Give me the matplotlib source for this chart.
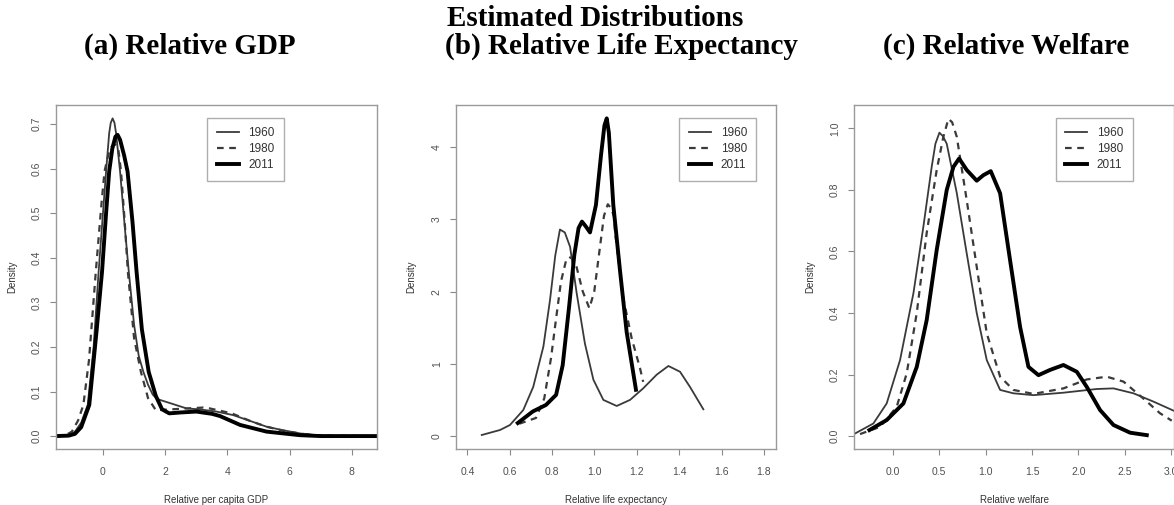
import matplotlib.pyplot as plt

plt.rcParams['font.family'] = ['Liberation Sans', 'DejaVu Sans']

years = ["1960", "1980", "2011"]

# (a) relative per capita GDP
gdp_x_1960 = [-1.51, -1.1, -0.9, -0.7, -0.49, -0.3, -0.14, 0.0, 0.10, 0.2, 0.25, 0.31, 0.37, 0.42, 0.55, 0.7, 0.83,
              1.0, 1.15, 1.3, 1.45, 1.6, 1.75, 2.2, 2.69, 3.1, 3.65, 4.19, 4.73, 5.26, 5.8, 6.33, 6.87, 7.5, 8.81]
gdp_y_1960 = [0, 0.001, 0.01, 0.03, 0.07, 0.2, 0.369, 0.5, 0.594, 0.68, 0.703, 0.713, 0.703, 0.68, 0.594, 0.47, 0.369,
              0.25, 0.18, 0.144, 0.115, 0.093, 0.083, 0.073, 0.062, 0.06, 0.055, 0.047, 0.034, 0.021, 0.013,
              0.006, 0.002, 0.0, 0.0]
gdp_x_1980 = [-1.51, -1.2, -1.0, -0.8, -0.63, -0.45, -0.23, -0.05, 0.05, 0.2, 0.3, 0.38, 0.45, 0.5, 0.58, 0.7, 0.8,
              1.0, 1.22, 1.45, 1.7, 2.2, 2.69, 3.22, 3.44, 4.14, 4.73, 5.26, 5.8, 6.4, 7.0, 8.81]
gdp_y_1980 = [0, 0.002, 0.01, 0.035, 0.07, 0.17, 0.369, 0.52, 0.594, 0.64, 0.652, 0.655, 0.65, 0.64, 0.594, 0.48, 0.369,
              0.22, 0.144, 0.085, 0.058, 0.06, 0.062, 0.064, 0.062, 0.051, 0.034, 0.021, 0.012, 0.005, 0.001, 0.0]
gdp_x_2011 = [-1.51, -1.1, -0.9, -0.7, -0.44, -0.2, -0.03, 0.1, 0.2, 0.3, 0.4, 0.47, 0.55, 0.68, 0.79, 0.95, 1.08,
              1.25, 1.47, 1.7, 1.9, 2.13, 2.5, 3.0, 3.5, 3.76, 4.41, 5.26, 6.33, 7.0, 8.81]
gdp_y_2011 = [0, 0.001, 0.005, 0.02, 0.07, 0.24, 0.369, 0.5, 0.594, 0.645, 0.672, 0.676, 0.665, 0.63, 0.594, 0.48, 0.369,
              0.24, 0.144, 0.09, 0.06, 0.051, 0.053, 0.055, 0.05, 0.045, 0.025, 0.010, 0.002, 0.0, 0.0]

# (b) relative life expectancy
life_x_1960 = [0.468, 0.554, 0.601, 0.664, 0.711, 0.759, 0.79, 0.815, 0.837, 0.86, 0.885, 0.916, 0.955, 0.995, 1.042,
               1.105, 1.168, 1.23, 1.294, 1.349, 1.404, 1.451, 1.514]
life_y_1960 = [0.014, 0.083, 0.152, 0.36, 0.68, 1.24, 1.88, 2.5, 2.86, 2.82, 2.62, 1.98, 1.28, 0.78, 0.50,
               0.416, 0.50, 0.66, 0.85, 0.97, 0.89, 0.68, 0.37]
life_x_1980 = [0.645, 0.724, 0.763, 0.795, 0.819, 0.842, 0.865, 0.881, 0.898, 0.913, 0.945, 0.976, 0.999, 1.023,
               1.045, 1.063, 1.08, 1.094, 1.097, 1.136, 1.176, 1.215, 1.23]
life_y_1980 = [0.17, 0.25, 0.52, 1.08, 1.63, 2.14, 2.42, 2.48, 2.45, 2.37, 2.0, 1.77, 2.0, 2.55,
               3.05, 3.21, 3.15, 3.02, 2.83, 1.91, 1.35, 0.94, 0.75]
life_x_2011 = [0.638, 0.709, 0.771, 0.819, 0.85, 0.881, 0.905, 0.925, 0.941, 0.96, 0.979, 1.007, 1.031, 1.047, 1.058,
               1.068, 1.089, 1.121, 1.152, 1.196]
life_y_2011 = [0.18, 0.34, 0.43, 0.57, 0.98, 1.81, 2.51, 2.88, 2.97, 2.9, 2.82, 3.2, 3.89, 4.3, 4.40,
               4.2, 3.2, 2.28, 1.44, 0.64]

# (c) relative welfare
wel_x_1960 = [-0.417, -0.208, -0.065, 0.079, 0.223, 0.330, 0.42, 0.46, 0.503, 0.54, 0.582, 0.69, 0.797, 0.905, 1.013,
              1.157, 1.30, 1.516, 1.839, 2.198, 2.378, 2.593, 2.809, 3.03]
wel_y_1960 = [0.0065, 0.041, 0.106, 0.247, 0.464, 0.68, 0.875, 0.95, 0.986, 0.975, 0.95, 0.79, 0.594, 0.40, 0.247,
              0.15, 0.139, 0.133, 0.141, 0.153, 0.155, 0.139, 0.112, 0.082]
wel_x_1980 = [-0.352, -0.136, 0.043, 0.151, 0.259, 0.366, 0.474, 0.546, 0.60, 0.64, 0.69, 0.797, 0.905, 1.013,
              1.157, 1.30, 1.516, 1.839, 2.09, 2.306, 2.486, 2.70, 2.88, 3.006]
wel_y_1980 = [0.0065, 0.03, 0.095, 0.204, 0.40, 0.66, 0.865, 0.973, 1.031, 1.02, 0.973, 0.767, 0.55, 0.334,
              0.193, 0.15, 0.137, 0.155, 0.184, 0.193, 0.177, 0.122, 0.074, 0.05]
wel_x_2011 = [-0.251, -0.065, 0.115, 0.259, 0.366, 0.474, 0.582, 0.654, 0.715, 0.797, 0.905, 0.977, 1.056,
              1.157, 1.264, 1.372, 1.462, 1.57, 1.695, 1.839, 1.983, 2.09, 2.234, 2.378, 2.557, 2.737]
wel_y_2011 = [0.0195, 0.052, 0.106, 0.225, 0.377, 0.605, 0.80, 0.875, 0.902, 0.865, 0.83, 0.848, 0.861,
              0.789, 0.572, 0.355, 0.225, 0.198, 0.215, 0.231, 0.209, 0.16, 0.0845, 0.036, 0.011, 0.003]

gdp_xticks = [0, 2, 4, 6, 8]
gdp_xlabels = ["0", "2", "4", "6", "8"]
gdp_yticks = [0, 0.1, 0.2, 0.3, 0.4, 0.5, 0.6, 0.7]
gdp_ylabels = ["0.0", "0.1", "0.2", "0.3", "0.4", "0.5", "0.6", "0.7"]
life_xticks = [0.4, 0.6, 0.8, 1.0, 1.2, 1.4, 1.6, 1.8]
life_xlabels = ["0.4", "0.6", "0.8", "1.0", "1.2", "1.4", "1.6", "1.8"]
life_yticks = [0, 1, 2, 3, 4]
life_ylabels = ["0", "1", "2", "3", "4"]
wel_xticks = [0.0, 0.5, 1.0, 1.5, 2.0, 2.5, 3.0]
wel_xlabels = ["0.0", "0.5", "1.0", "1.5", "2.0", "2.5", "3.0"]
wel_yticks = [0.0, 0.2, 0.4, 0.6, 0.8, 1.0]
wel_ylabels = ["0.0", "0.2", "0.4", "0.6", "0.8", "1.0"]

W, H = 1174, 505
fig = plt.figure(figsize=(W / 100, H / 100), dpi=100)

styles = [dict(color='#3a3a3a', lw=1.3, ls='-'),
          dict(color='#3a3a3a', lw=1.6, ls=(0, (3, 2.5))),
          dict(color='black', lw=2.8, ls='-')]

grey = '#8a8a8a'
tick_col = '#505050'


def panel(left_px, width_px, xs, ys, xlim, ylim, xticks, xlabels, yticks, ylabels, xlabel, leg_x):
    ax = fig.add_axes([left_px / W, 1 - 449 / H, width_px / W, 344 / H])
    for x, y, st, lab in zip(xs, ys, styles, years):
        ax.plot(x, y, label=lab, solid_joinstyle='round', **st)
    ax.set_xlim(*xlim)
    ax.set_ylim(*ylim)
    ax.set_xticks(xticks)
    ax.set_xticklabels(xlabels)
    ax.set_yticks(yticks)
    ax.set_yticklabels(ylabels, rotation=90, va='center')
    ax.tick_params(length=4, width=0.8, color=grey, labelcolor=tick_col, labelsize=7.5, pad=9)
    ax.tick_params(axis='y', pad=6)
    for s in ax.spines.values():
        s.set_color('#9a9a9a')
        s.set_linewidth(1.0)
    ax.set_xlabel(xlabel, fontsize=7, color='#333333', labelpad=13)
    ax.set_ylabel("Density", fontsize=7, color='#333333', labelpad=11)
    leg = ax.legend(loc='upper left', bbox_to_anchor=(leg_x, 0.963), fontsize=8.5, frameon=True,
                    fancybox=False, handlelength=1.9, handletextpad=0.8, borderpad=0.8,
                    labelspacing=0.35, borderaxespad=0)
    leg.get_frame().set_edgecolor('#9a9a9a')
    leg.get_frame().set_linewidth(1.0)
    for t in leg.get_texts():
        t.set_color('#333333')
    return ax


panel(56, 321, [gdp_x_1960, gdp_x_1980, gdp_x_2011], [gdp_y_1960, gdp_y_1980, gdp_y_2011],
      (-1.51, 8.81), (-0.029, 0.743), gdp_xticks, gdp_xlabels, gdp_yticks, gdp_ylabels,
      "Relative per capita GDP", 0.471)
panel(455.7, 320.3, [life_x_1960, life_x_1980, life_x_2011], [life_y_1960, life_y_1980, life_y_2011],
      (0.345, 1.857), (-0.18, 4.585), life_xticks, life_xlabels, life_yticks, life_ylabels,
      "Relative life expectancy", 0.698)
panel(854, 320, [wel_x_1960, wel_x_1980, wel_x_2011], [wel_y_1960, wel_y_1980, wel_y_2011],
      (-0.417, 3.03), (-0.042, 1.076), wel_xticks, wel_xlabels, wel_yticks, wel_ylabels,
      "Relative welfare", 0.630)

serif = ['Liberation Serif', 'DejaVu Serif']
fig.text(595 / W, 1 - 18 / H, "Estimated Distributions", family=serif, weight='bold',
         fontsize=21, ha='center', va='center')
fig.text(190 / W, 1 - 46 / H, "(a) Relative GDP", family=serif, weight='bold',
         fontsize=21, ha='center', va='center')
fig.text(621 / W, 1 - 46 / H, "(b) Relative Life Expectancy", family=serif, weight='bold',
         fontsize=21, ha='center', va='center')
fig.text(1006 / W, 1 - 46 / H, "(c) Relative Welfare", family=serif, weight='bold',
         fontsize=21, ha='center', va='center')

fig.savefig("out.png", dpi=100)
